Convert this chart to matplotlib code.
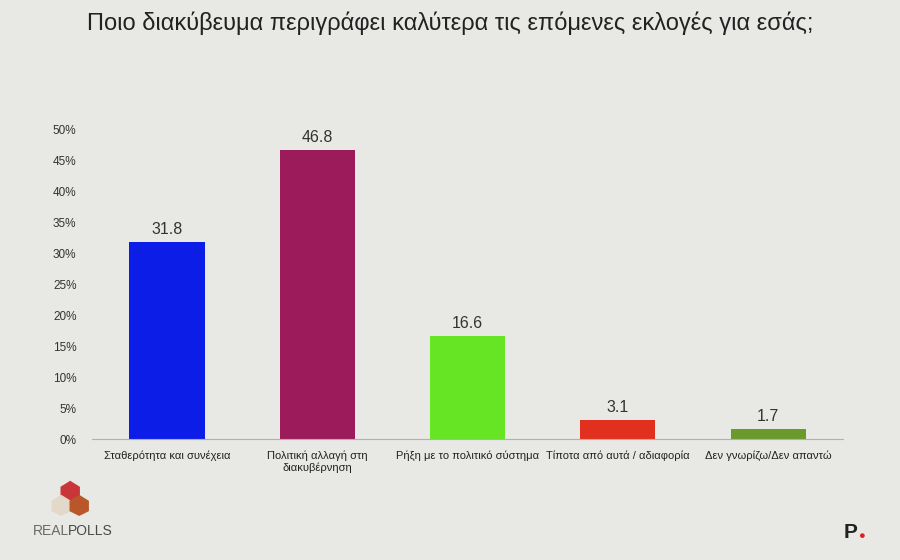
import matplotlib.pyplot as plt
from matplotlib.patches import Polygon

# data
categories = ["Σταθερότητα και συνέχεια", "Πολιτική αλλαγή στη\nδιακυβέρνηση",
              "Ρήξη με το πολιτικό σύστημα", "Τίποτα από αυτά / αδιαφορία",
              "Δεν γνωρίζω/Δεν απαντώ"]
values = [31.8, 46.8, 16.6, 3.1, 1.7]
colors = ["#0c1de8", "#9c1b5b", "#66e524", "#e2301f", "#6b9a2c"]
yticks = [0, 5, 10, 15, 20, 25, 30, 35, 40, 45, 50]

bg = "#e8e8e5"
plt.rcParams['font.family'] = ['Liberation Sans', 'DejaVu Sans']

fig = plt.figure(figsize=(9, 5.6), dpi=100, facecolor=bg)
ax = fig.add_axes([0.102, 0.216, 0.835, 0.552], facecolor=bg)

x = range(len(categories))
ax.bar(x, values, width=0.5, color=colors)
for i, v in zip(x, values):
    ax.text(i, v + 0.8, f"{v}", ha="center", va="bottom", fontsize=11.5, color="#333333")

ax.set_xlim(-0.5, len(categories) - 0.5)
ax.set_ylim(0, 50)
ax.set_yticks(yticks)
ax.set_yticklabels([f"{t}%" for t in yticks], fontsize=8.5, color="#333333")
ax.set_xticks(list(x))
ax.set_xticklabels(categories, fontsize=8, color="#222222")
ax.tick_params(length=0, pad=8)
ax.tick_params(axis="y", pad=11)
for s in ["top", "right", "left"]:
    ax.spines[s].set_visible(False)
ax.spines["bottom"].set_color("#b0b0b0")
ax.spines["bottom"].set_linewidth(0.8)

fig.text(0.5, 0.958, "Ποιο διακύβευμα περιγράφει καλύτερα τις επόμενες εκλογές για εσάς;",
         ha="center", va="center", fontsize=17, color="#222222")

# logos
fig.text(0.036, 0.052, "REAL", fontsize=10, color="#6a6a6a", va="center")
fig.text(0.075, 0.052, "POLLS", fontsize=10, color="#4a4a4a", va="center")
fig.patches.append(Polygon([[0.068, 0.13], [0.078, 0.14], [0.088, 0.13], [0.088, 0.105],
                            [0.078, 0.095], [0.068, 0.105]], closed=True,
                           transform=fig.transFigure, color="#c8363a"))
fig.patches.append(Polygon([[0.058, 0.105], [0.068, 0.115], [0.078, 0.105], [0.078, 0.088],
                            [0.068, 0.08], [0.058, 0.088]], closed=True,
                           transform=fig.transFigure, color="#e3d9c8"))
fig.patches.append(Polygon([[0.078, 0.105], [0.088, 0.115], [0.098, 0.105], [0.098, 0.088],
                            [0.088, 0.08], [0.078, 0.088]], closed=True,
                           transform=fig.transFigure, color="#b9572a"))
fig.text(0.937, 0.05, "P", fontsize=15, fontweight="bold", color="#222222", va="center")
fig.text(0.953, 0.043, "●", fontsize=8, color="#e02020", va="center")

fig.savefig("out.png", dpi=100, facecolor=bg)
